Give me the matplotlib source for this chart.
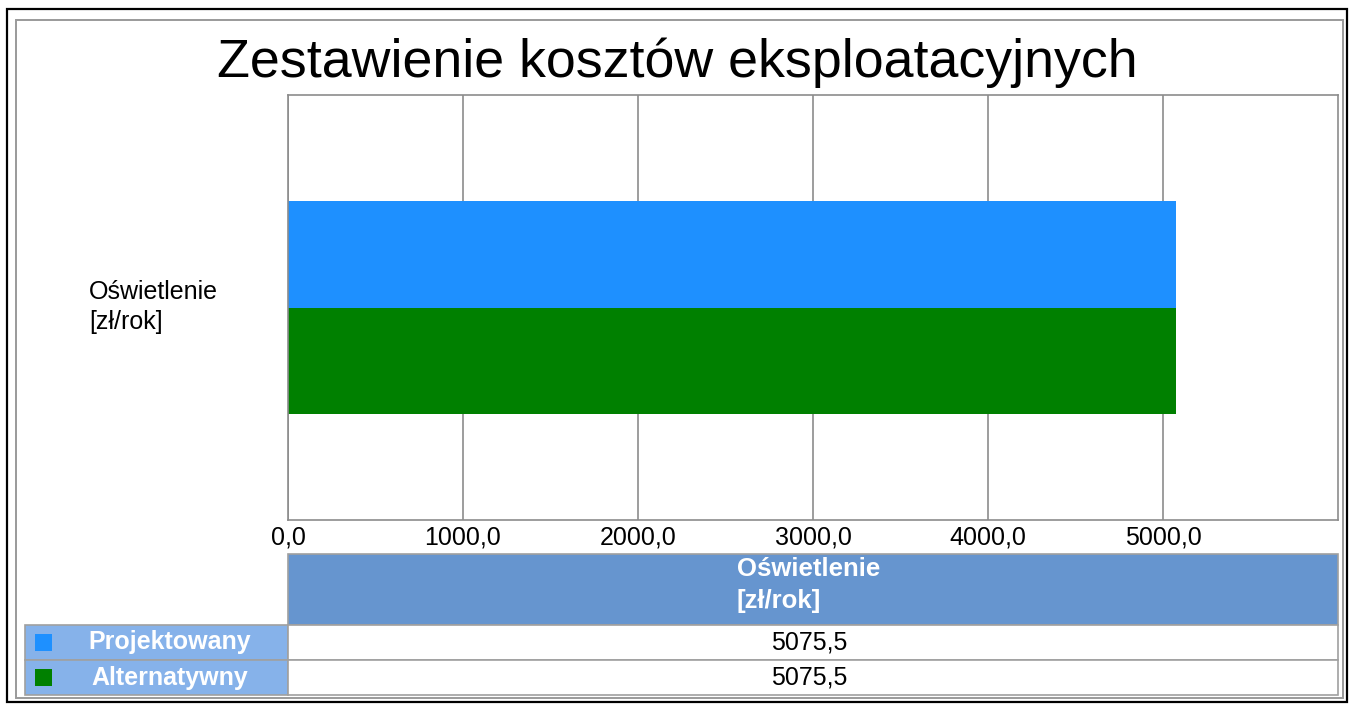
import matplotlib.pyplot as plt
from matplotlib.patches import Rectangle

# data
category = "Oświetlenie\n[zł/rok]"
series_names = ["Projektowany", "Alternatywny"]
series_values = [5075.5, 5075.5]
series_colors = ["#1E90FF", "#008000"]
x_ticks = [0, 1000, 2000, 3000, 4000, 5000]

W, H = 1354, 707
FONT = "Liberation Sans"

fig = plt.figure(figsize=(W / 100, H / 100), dpi=100)
fig.patch.set_facecolor("white")


def fx(px):
    return px / W


def fy(py):
    return 1 - py / H


# overlay in pixel coordinates for frame and table
bg = fig.add_axes([0, 0, 1, 1])
bg.set_xlim(0, W)
bg.set_ylim(H, 0)
bg.axis("off")
bg.add_patch(Rectangle((7, 9), 1340, 693, fill=False, ec="black", lw=1.6))
bg.add_patch(Rectangle((16, 20), 1327, 678, fill=False, ec="#9a9a9a", lw=1.4))

bg.text(677, 63, "Zestawienie kosztów eksploatacyjnych", ha="center", va="center",
        fontsize=38.7, family=FONT, color="black")

# chart
ax = fig.add_axes([fx(288), fy(520), fx(1050), 425 / H])
bar_h = 0.25
offsets = [bar_h / 2, -bar_h / 2]
for name, val, col, off in zip(series_names, series_values, series_colors, offsets):
    ax.barh(off, val, height=bar_h, color=col, zorder=2)
ax.set_xlim(0, 6000)
ax.set_ylim(-0.5, 0.5)
ax.set_xticks(x_ticks)
ax.set_xticklabels([f"{t:.1f}".replace(".", ",") for t in x_ticks], family=FONT, fontsize=18)
ax.tick_params(axis="x", length=0, pad=4)
ax.set_yticks([])
ax.grid(axis="x", color="#8c8c8c", lw=1.2, zorder=1)
for s in ax.spines.values():
    s.set_color("#8c8c8c")
    s.set_linewidth(1.2)

bg.text(89, 307, category, ha="left", va="center", fontsize=18, family=FONT,
        linespacing=1.32)

# table under the chart
edge = "#a0a0a0"
bg.add_patch(Rectangle((288, 554), 1050, 71, fc="#6695CF", ec=edge, lw=1.2))
bg.text(737, 585, category, ha="left", va="center", fontsize=18.5, family=FONT,
        color="white", weight="bold", linespacing=1.38)

row_top = 625
row_h = 35
for i, (name, val, col) in enumerate(zip(series_names, series_values, series_colors)):
    y0 = row_top + i * row_h
    bg.add_patch(Rectangle((25, y0), 263, row_h, fc="#86B2EA", ec=edge, lw=1.2))
    bg.add_patch(Rectangle((288, y0), 1050, row_h, fc="white", ec=edge, lw=1.2))
    bg.add_patch(Rectangle((35, y0 + 9), 17, 17, fc=col, ec="none"))
    bg.text(170, y0 + row_h / 2, name, ha="center", va="center", fontsize=18,
            family=FONT, color="white", weight="bold")
    bg.text(809, y0 + row_h / 2, f"{val:.1f}".replace(".", ","), ha="center",
            va="center", fontsize=18, family=FONT, color="black")

fig.savefig("out.png", dpi=100)
